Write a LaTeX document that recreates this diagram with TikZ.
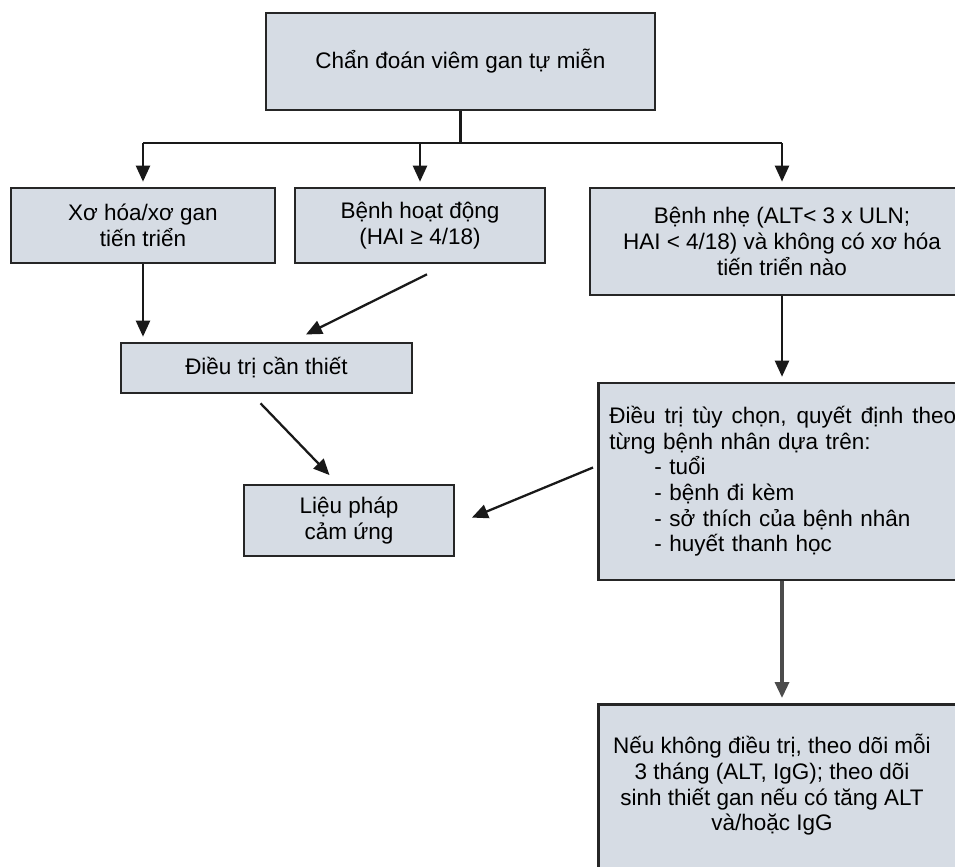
\documentclass[tikz,border=0pt]{standalone}
\usepackage{fontspec}
\setmainfont{Liberation Sans}
\usetikzlibrary{arrows.meta}
\definecolor{boxfill}{RGB}{214,220,228}
\tikzset{
  box/.style={draw=black!85, line width=1.5pt, fill=boxfill, align=center,
    font=\fontsize{12.8}{14.6}\selectfont},
  link/.style={line width=1.3pt, black!90},
  arr/.style={link, -{Triangle[length=0.32cm,width=0.28cm]}, shorten >=0.1cm}
}
\begin{document}
\begin{tikzpicture}[x=0.02cm,y=-0.02cm]
\useasboundingbox (0,0) rectangle (955,866);
\clip (0,0) rectangle (955,866);

\node[box, minimum width=7.78cm, minimum height=1.94cm] (diag) at (460.5,61.5) {Chẩn đoán viêm gan tự miễn};
\node[box, minimum width=5.28cm, minimum height=1.5cm] (fib) at (143,225.5) {Xơ hóa/xơ gan\\tiến triển};
\node[box, minimum width=5cm, minimum height=1.5cm] (active) at (420,225.5) {Bệnh hoạt động\\(HAI ≥ 4/18)};
\node[box, minimum width=7.68cm, minimum height=2.14cm] (mild) at (782,241.5) {Bệnh nhẹ (ALT< 3 x ULN;\\HAI < 4/18) và không có xơ hóa\\tiến triển nào};
\node[box, minimum width=5.82cm, minimum height=1cm] (need) at (266.5,368) {Điều trị cần thiết};
\node[box, minimum width=4.2cm, minimum height=1.42cm] (induct) at (349,520.5) {Liệu pháp\\cảm ứng};
\node[box, anchor=west, align=left, text width=6.94cm, inner xsep=0.22cm, minimum height=3.94cm] (opt) at (597,481.5)
  {{\spaceskip=0.278em plus 3em\relax\makebox[6.94cm][s]{Điều trị tùy chọn, quyết định theo}}\\
   từng bệnh nhân dựa trên:\\
   \hspace*{0.9cm}- tuổi\\
   \hspace*{0.9cm}- bệnh đi kèm\\
   \hspace*{0.9cm}- sở thích của bệnh nhân\\
   \hspace*{0.9cm}- huyết thanh học};
\node[box, anchor=north west, minimum width=7.6cm, minimum height=3.54cm] (follow) at (597,703) {};
\node[align=center, font=\fontsize{12.8}{14.6}\selectfont] (followtxt) at (772,785)
  {Nếu không điều trị, theo dõi mỗi\\3 tháng (ALT, IgG); theo dõi\\sinh thiết gan nếu có tăng ALT\\và/hoặc IgG};

\draw[link] (diag.south) -- ++(0,32) coordinate (split);
\draw[link] (split -| fib.north) -- (split -| mild.north);
\foreach \n in {fib,active,mild}
  \draw[arr] (split -| \n.north) -- (\n.north);

\draw[arr] (fib.south) -- (fib.south |- need.north);
\draw[arr] ([shift={(7,10)}]active.south) -- ([shift={(35,-5)}]need.north);
\draw[arr] ([shift={(-6,9)}]need.south) -- ([shift={(-16,-5)}]induct.north);
\draw[arr] ([shift={(-4,-14)}]opt.west) -- ([shift={(12,-1)}]induct.east);
\draw[arr] (mild.south) -- (mild.south |- opt.north);
\draw[arr, black!70, line width=1.9pt] (opt.south -| mild.south) -- (follow.north -| mild.south);
\end{tikzpicture}
\end{document}
